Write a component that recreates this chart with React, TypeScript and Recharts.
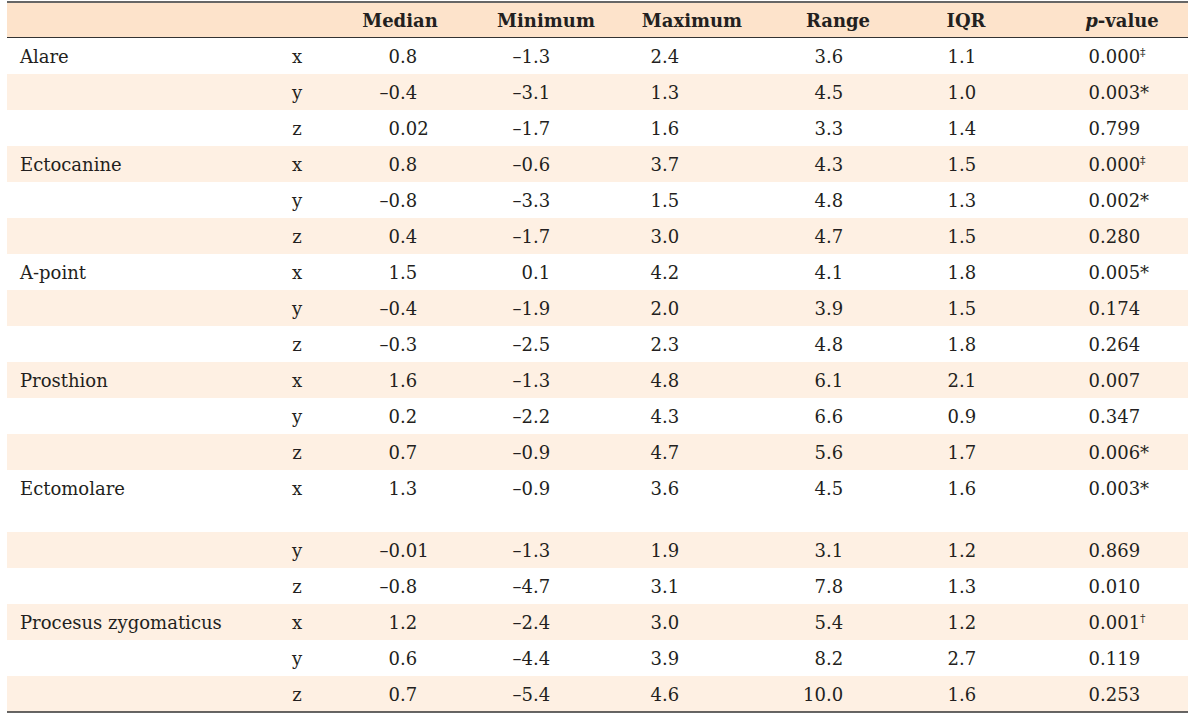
import { ScatterChart, Scatter, XAxis, YAxis, ReferenceArea, ReferenceLine } from "recharts";

// table content
const LANDMARKS = ["Alare", "Ectocanine", "A-point", "Prosthion", "Ectomolare", "Procesus zygomaticus"];
const AXES = ["x", "y", "z"];
const HEADERS = ["Median", "Minimum", "Maximum", "Range", "IQR", "p-value"];

const MEDIAN = ["0.8", "–0.4", "0.02", "0.8", "–0.8", "0.4", "1.5", "–0.4", "–0.3", "1.6", "0.2", "0.7", "1.3", "–0.01", "–0.8", "1.2", "0.6", "0.7"];
const MINIMUM = ["–1.3", "–3.1", "–1.7", "–0.6", "–3.3", "–1.7", "0.1", "–1.9", "–2.5", "–1.3", "–2.2", "–0.9", "–0.9", "–1.3", "–4.7", "–2.4", "–4.4", "–5.4"];
const MAXIMUM = ["2.4", "1.3", "1.6", "3.7", "1.5", "3.0", "4.2", "2.0", "2.3", "4.8", "4.3", "4.7", "3.6", "1.9", "3.1", "3.0", "3.9", "4.6"];
const RANGE = ["3.6", "4.5", "3.3", "4.3", "4.8", "4.7", "4.1", "3.9", "4.8", "6.1", "6.6", "5.6", "4.5", "3.1", "7.8", "5.4", "8.2", "10.0"];
const IQR = ["1.1", "1.0", "1.4", "1.5", "1.3", "1.5", "1.8", "1.5", "1.8", "2.1", "0.9", "1.7", "1.6", "1.2", "1.3", "1.2", "2.7", "1.6"];
const P_VALUE = ["0.000", "0.003", "0.799", "0.000", "0.002", "0.280", "0.005", "0.174", "0.264", "0.007", "0.347", "0.006", "0.003", "0.869", "0.010", "0.001", "0.119", "0.253"];
const P_MARK = ["‡", "*", "", "‡", "*", "", "*", "", "", "", "", "*", "*", "", "", "†", "", ""];

// layout
const W = 1200;
const H = 714;
const LEFT = 7;
const RIGHT = 1188;
const HEAD_TOP = 3;
const HEAD_BOTTOM = 37;
const ROW_H = 36;
const TALL_ROW = LANDMARKS.indexOf("Ectomolare") * 3; // this row has extra space below
const TALL_EXTRA = 26;
const LABEL_X = 20;
const AXIS_X = 297;
const HEADER_X = [400, 546, 692, 838, 966, 1122];
const DECIMAL_X = [400, 533, 662, 826, 959, 1100];

const FONT = "'DejaVu Serif', serif";
const INK = "#231f20";
const HEAD_FILL = "#fde3cb";
const ROW_FILL = "#fef0e3";

const rowTop = (i: number) => HEAD_BOTTOM + 1 + ROW_H * i + (i > TALL_ROW ? TALL_EXTRA : 0);
const rowHeight = (i: number) => (i === TALL_ROW ? ROW_H + TALL_EXTRA : ROW_H);
const rowCenter = (i: number) => rowTop(i) + ROW_H / 2;

const COLUMNS = [MEDIAN, MINIMUM, MAXIMUM, RANGE, IQR, P_VALUE];

const headerData = HEADERS.map((h, k) => ({ x: HEADER_X[k], y: (HEAD_TOP + HEAD_BOTTOM) / 2, text: h }));
const labelData = LANDMARKS.map((l, k) => ({ x: LABEL_X, y: rowCenter(k * 3), text: l }));
const axisData = MEDIAN.map((_, i) => ({ x: AXIS_X, y: rowCenter(i), text: AXES[i % 3] }));
const columnData = COLUMNS.map((col, k) =>
  col.map((v, i) => ({ x: DECIMAL_X[k], y: rowCenter(i), text: v, mark: k === 5 ? P_MARK[i] : "" }))
);

const textProps = { fontFamily: FONT, fontSize: 18, fill: INK };

function HeaderCell(props: any) {
  const { cx, cy, payload } = props;
  const t: string = payload.text;
  return (
    <text x={cx} y={cy + 6.5} textAnchor="middle" {...textProps} fontWeight="bold">
      {t.startsWith("p-") ? (
        <>
          <tspan fontStyle="italic">p</tspan>
          {t.slice(1)}
        </>
      ) : (
        t
      )}
    </text>
  );
}

function PlainCell(anchor: "start" | "middle") {
  return (props: any) => (
    <text x={props.cx} y={props.cy + 6.5} textAnchor={anchor} {...textProps}>
      {props.payload.text}
    </text>
  );
}

function DecimalCell(props: any) {
  const { cx, cy, payload } = props;
  const [whole, frac] = String(payload.text).split(".");
  const mark: string = payload.mark;
  return (
    <g>
      <text x={cx} y={cy + 6.5} textAnchor="end" {...textProps}>{whole}</text>
      <text x={cx} y={cy + 6.5} textAnchor="start" {...textProps}>
        .{frac}
        {mark === "*" && <tspan>*</tspan>}
        {mark && mark !== "*" && (
          <tspan fontSize={11} dy={-7}>{mark}</tspan>
        )}
      </text>
    </g>
  );
}

export default function App() {
  return (
    <div style={{ position: "absolute", left: 0, top: 0, width: W, height: H, background: "#fff" }}>
      <ScatterChart width={W} height={H} margin={{ top: 0, right: 0, bottom: 0, left: 0 }}>
        <XAxis type="number" dataKey="x" domain={[0, W]} hide allowDataOverflow />
        <YAxis type="number" dataKey="y" domain={[0, H]} reversed hide allowDataOverflow />

        <ReferenceArea x1={LEFT} x2={RIGHT} y1={HEAD_TOP} y2={HEAD_BOTTOM} fill={HEAD_FILL} fillOpacity={1} stroke="none" />
        {MEDIAN.map((_, i) =>
          i % 2 === 1 ? (
            <ReferenceArea
              key={i}
              x1={LEFT} x2={RIGHT}
              y1={rowTop(i)} y2={rowTop(i) + rowHeight(i)}
              fill={ROW_FILL} fillOpacity={1} stroke="none"
            />
          ) : null
        )}

        <ReferenceLine segment={[{ x: LEFT, y: 2 }, { x: RIGHT, y: 2 }]} stroke="#333" strokeWidth={1.5} />
        <ReferenceLine segment={[{ x: LEFT, y: HEAD_BOTTOM + 0.5 }, { x: RIGHT, y: HEAD_BOTTOM + 0.5 }]} stroke="#333" strokeWidth={1} />
        <ReferenceLine segment={[{ x: LEFT, y: H - 2 }, { x: RIGHT, y: H - 2 }]} stroke="#333" strokeWidth={1.5} />

        <Scatter data={headerData} shape={HeaderCell} isAnimationActive={false} />
        <Scatter data={labelData} shape={PlainCell("start")} isAnimationActive={false} />
        <Scatter data={axisData} shape={PlainCell("middle")} isAnimationActive={false} />
        {columnData.map((d, k) => (
          <Scatter key={k} data={d} shape={DecimalCell} isAnimationActive={false} />
        ))}
      </ScatterChart>
    </div>
  );
}
